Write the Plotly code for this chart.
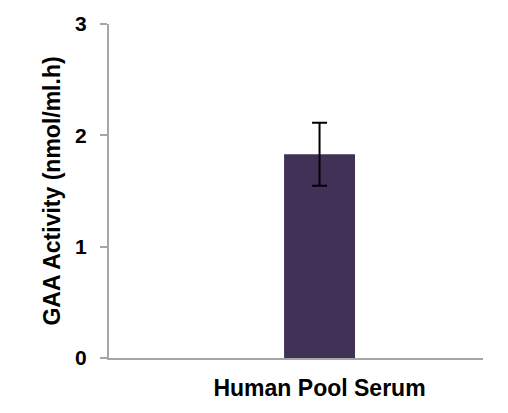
import plotly.graph_objects as go

categories = ["Human Pool Serum"]
activity = [1.83]
activity_err = [0.283]

fig = go.Figure()
fig.add_trace(go.Bar(
    x=categories,
    y=activity,
    width=0.217,
    marker=dict(color="#423157", line=dict(width=0)),
    error_y=dict(type="data", array=activity_err, color="black", thickness=2, width=7.5),
))

# page has an 8px body margin, so margins are shifted to compensate
fig.update_layout(
    width=508,
    height=413,
    margin=dict(l=101, r=33, t=16, b=63),
    plot_bgcolor="white",
    paper_bgcolor="white",
    showlegend=False,
    font=dict(family="Liberation Sans, Arial", color="black"),
)
fig.update_xaxes(
    range=[-0.644, 0.5], automargin=False,
    showline=True, linecolor="#a6a6a6", linewidth=2,
    ticks="", showgrid=False, ticklabelstandoff=8,
    tickfont=dict(size=23, family="Liberation Sans, Arial", weight="bold"),
)
fig.update_yaxes(
    range=[0, 3], tickvals=[0, 1, 2, 3], automargin=False,
    showline=True, linecolor="#a6a6a6", linewidth=2,
    ticks="outside", ticklen=7, tickcolor="#a6a6a6", tickwidth=2,
    showgrid=False, zeroline=False, ticklabelstandoff=9,
    tickfont=dict(size=21, family="Liberation Sans, Arial", weight="bold"),
    title=dict(text="GAA Activity (nmol/ml.h)", standoff=8,
               font=dict(size=23, family="Liberation Sans, Arial", weight="bold")),
)

fig.write_html("out.html")
